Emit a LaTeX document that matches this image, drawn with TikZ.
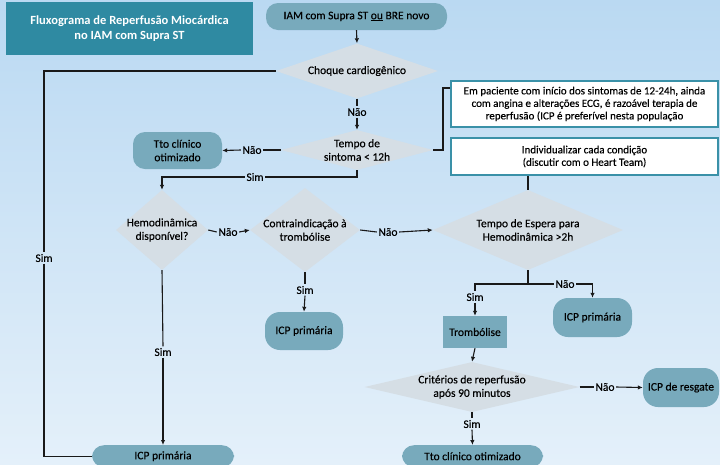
\documentclass[tikz,border=0pt]{standalone}
\usepackage{fontspec}
\setmainfont{Carlito}[UprightFeatures={FakeBold=0.35}]
\usepackage{tikz}
\usetikzlibrary{arrows.meta, calc, positioning, shapes.geometric}
\definecolor{bgtop}{RGB}{186,217,242}
\definecolor{bgbot}{RGB}{228,240,250}
\definecolor{titleteal}{RGB}{47,138,162}
\definecolor{procblue}{RGB}{120,170,188}
\definecolor{decgrey}{RGB}{213,222,229}
\definecolor{noteteal}{RGB}{58,145,168}
\definecolor{linegrey}{RGB}{25,25,25}

\begin{document}
\begin{tikzpicture}[x=1pt,y=-1pt,
	font=\fontsize{11.5}{13.5}\selectfont,
	procstyle/.style={fill=procblue,rounded corners=12pt,align=center,inner sep=0pt},
	rectstyle/.style={fill=procblue,align=center,inner sep=0pt},
	decstyle/.style={diamond,fill=decgrey,align=center,inner xsep=0pt,inner ysep=-3pt},
	notestyle/.style={draw=noteteal,line width=1.8pt,fill=white,align=center,inner sep=0pt,
		font=\fontsize{11}{12.5}\selectfont},
	lblstyle/.style={inner sep=1.5pt},
	linestyle/.style={draw=linegrey,line width=1.1pt},
	arrstyle/.style={linestyle,-{Latex[length=5pt,width=4.5pt]}}
]
	\useasboundingbox (0,0) rectangle (720,464);
	\clip (0,0) rectangle (720,464);
	\shade[top color=bgtop,bottom color=bgbot] (0,0) rectangle (720,464);

	\node[fill=titleteal,text=white,align=center,minimum width=247pt,minimum height=53pt,
		font=\bfseries\fontsize{12.5}{14.5}\selectfont] at (129.5,28.5) (title) {Fluxograma de Reperfusão Miocárdica\\no IAM com Supra ST};

	\node[procstyle,minimum width=181pt,minimum height=27pt] at (356.5,16.5) (iam) {IAM com Supra ST \underline{ou} BRE novo};
	\node[decstyle,aspect=2.95,minimum width=162pt,minimum height=55pt] at (357,71) (choque) {Choque cardiogênico};
	\node[lblstyle] at (357,112) (naoA) {Não};
	\node[decstyle,aspect=3.8,minimum width=152pt,minimum height=40pt] at (357,150) (tempo) {Tempo de\\sintoma < 12h};
	\node[lblstyle] at (252,150) (naoB) {Não};
	\node[procstyle,minimum width=89pt,minimum height=37pt] at (177.5,150.5) (ttoA) {Tto clínico\\otimizado};
	\node[lblstyle] at (255,177) (simA) {Sim};
	\node[lblstyle] at (44,258) (simL) {Sim};

	\node[notestyle,minimum width=267pt,minimum height=46pt] at (584.5,104) (note1) {Em paciente com início dos sintomas de 12-24h, ainda\\com angina e alterações ECG, é razoável terapia de\\reperfusão (ICP é preferível nesta população};
	\node[notestyle,minimum width=267pt,minimum height=37pt] at (584.5,156.5) (note2) {Individualizar cada condição\\(discutir com o Heart Team)};
	\coordinate (kink) at (443,88);

	\node[decstyle,inner xsep=-7pt,aspect=1.15,minimum width=92pt,minimum height=80pt] at (162,230) (hemo) {Hemodinâmica\\disponível?};
	\node[lblstyle] at (228,232) (naoH) {Não};
	\node[decstyle,inner xsep=-6pt,aspect=1.3,minimum width=110pt,minimum height=84pt] at (305,230) (contra) {Contraindicação à\\trombólise};
	\node[lblstyle] at (388,232) (naoC) {Não};
	\node[decstyle,aspect=2.4,minimum width=190pt,minimum height=80pt] at (528,230) (espera) {Tempo de Espera para\\Hemodinâmica >2h};

	\node[lblstyle] at (163,352) (simH) {Sim};
	\node[procstyle,anchor=north,minimum width=142pt,minimum height=22pt] at (163,445) (icpL) {ICP primária};
	\node[lblstyle] at (305,290) (simC) {Sim};
	\node[procstyle,rounded corners=15pt,minimum width=78pt,minimum height=38pt] at (304,331) (icpM) {ICP primária};

	\node[lblstyle] at (565,284) (naoE) {Não};
	\node[lblstyle] at (475,297) (simE) {Sim};
	\node[procstyle,rounded corners=15pt,minimum width=79pt,minimum height=39pt] at (592.5,317.5) (icpR) {ICP primária};
	\node[rectstyle,minimum width=64pt,minimum height=32pt] at (475,332) (tromb) {Trombólise};
	\node[decstyle,aspect=4.3,minimum width=215pt,minimum height=50pt] at (472,387) (crit) {Critérios de reperfusão\\após 90 minutos};
	\node[lblstyle] at (605,387) (naoR) {Não};
	\node[procstyle,rounded corners=15pt,minimum width=76pt,minimum height=39pt] at (681,387.5) (resgate) {ICP de resgate};
	\node[lblstyle] at (472,424) (simR) {Sim};
	\node[procstyle,anchor=north,minimum width=141pt,minimum height=22pt] at (472.5,445) (ttoB) {Tto clínico otimizado};
	\coordinate (split) at (espera.south |- naoE);

	\draw[arrstyle] (iam.south) -- (choque.north);
	\draw[linestyle] (choque.south) -- (naoA.north);
	\draw[arrstyle] (naoA.south) -- (tempo.north);
	\draw[linestyle] (choque.west) -| (simL.north);
	\draw[linestyle] (simL.south) |- (icpL.west);
	\draw[linestyle] (tempo.west) -- (naoB.east);
	\draw[arrstyle] (naoB.west) -- (ttoA.east);
	\draw[linestyle] (tempo.south) |- (simA.east);
	\draw[arrstyle] (simA.west) -| (hemo.north);
	\draw[linestyle] (tempo.east) -| (kink) -- (kink -| note1.west);
	\draw[linestyle] (note2.south -| espera.north) -- (espera.north);
	\draw[linestyle] (hemo.east) -- (naoH.west);
	\draw[arrstyle] (naoH.east) -- (contra.west);
	\draw[linestyle] (contra.east) -- (naoC.west);
	\draw[arrstyle] (naoC.east) -- (espera.west);
	\draw[linestyle] (hemo.south) -- (simH.north);
	\draw[arrstyle] (simH.south) -- (icpL.north);
	\draw[linestyle] (contra.south) -- (simC.north);
	\draw[arrstyle] (simC.south) -- (icpM.north);
	\draw[linestyle] (espera.south) -- (split) -| (simE.north);
	\draw[linestyle] (split) -- (naoE.west);
	\draw[arrstyle] (naoE.east) -| (icpR.north);
	\draw[arrstyle] (simE.south) -- (tromb.north);
	\draw[arrstyle] (tromb.south) -- (crit.north);
	\draw[linestyle] (crit.east) -- (naoR.west);
	\draw[arrstyle] (naoR.east) -- (resgate.west);
	\draw[linestyle] (crit.south) -- (simR.north);
	\draw[arrstyle] (simR.south) -- (ttoB.north);
\end{tikzpicture}
\end{document}
